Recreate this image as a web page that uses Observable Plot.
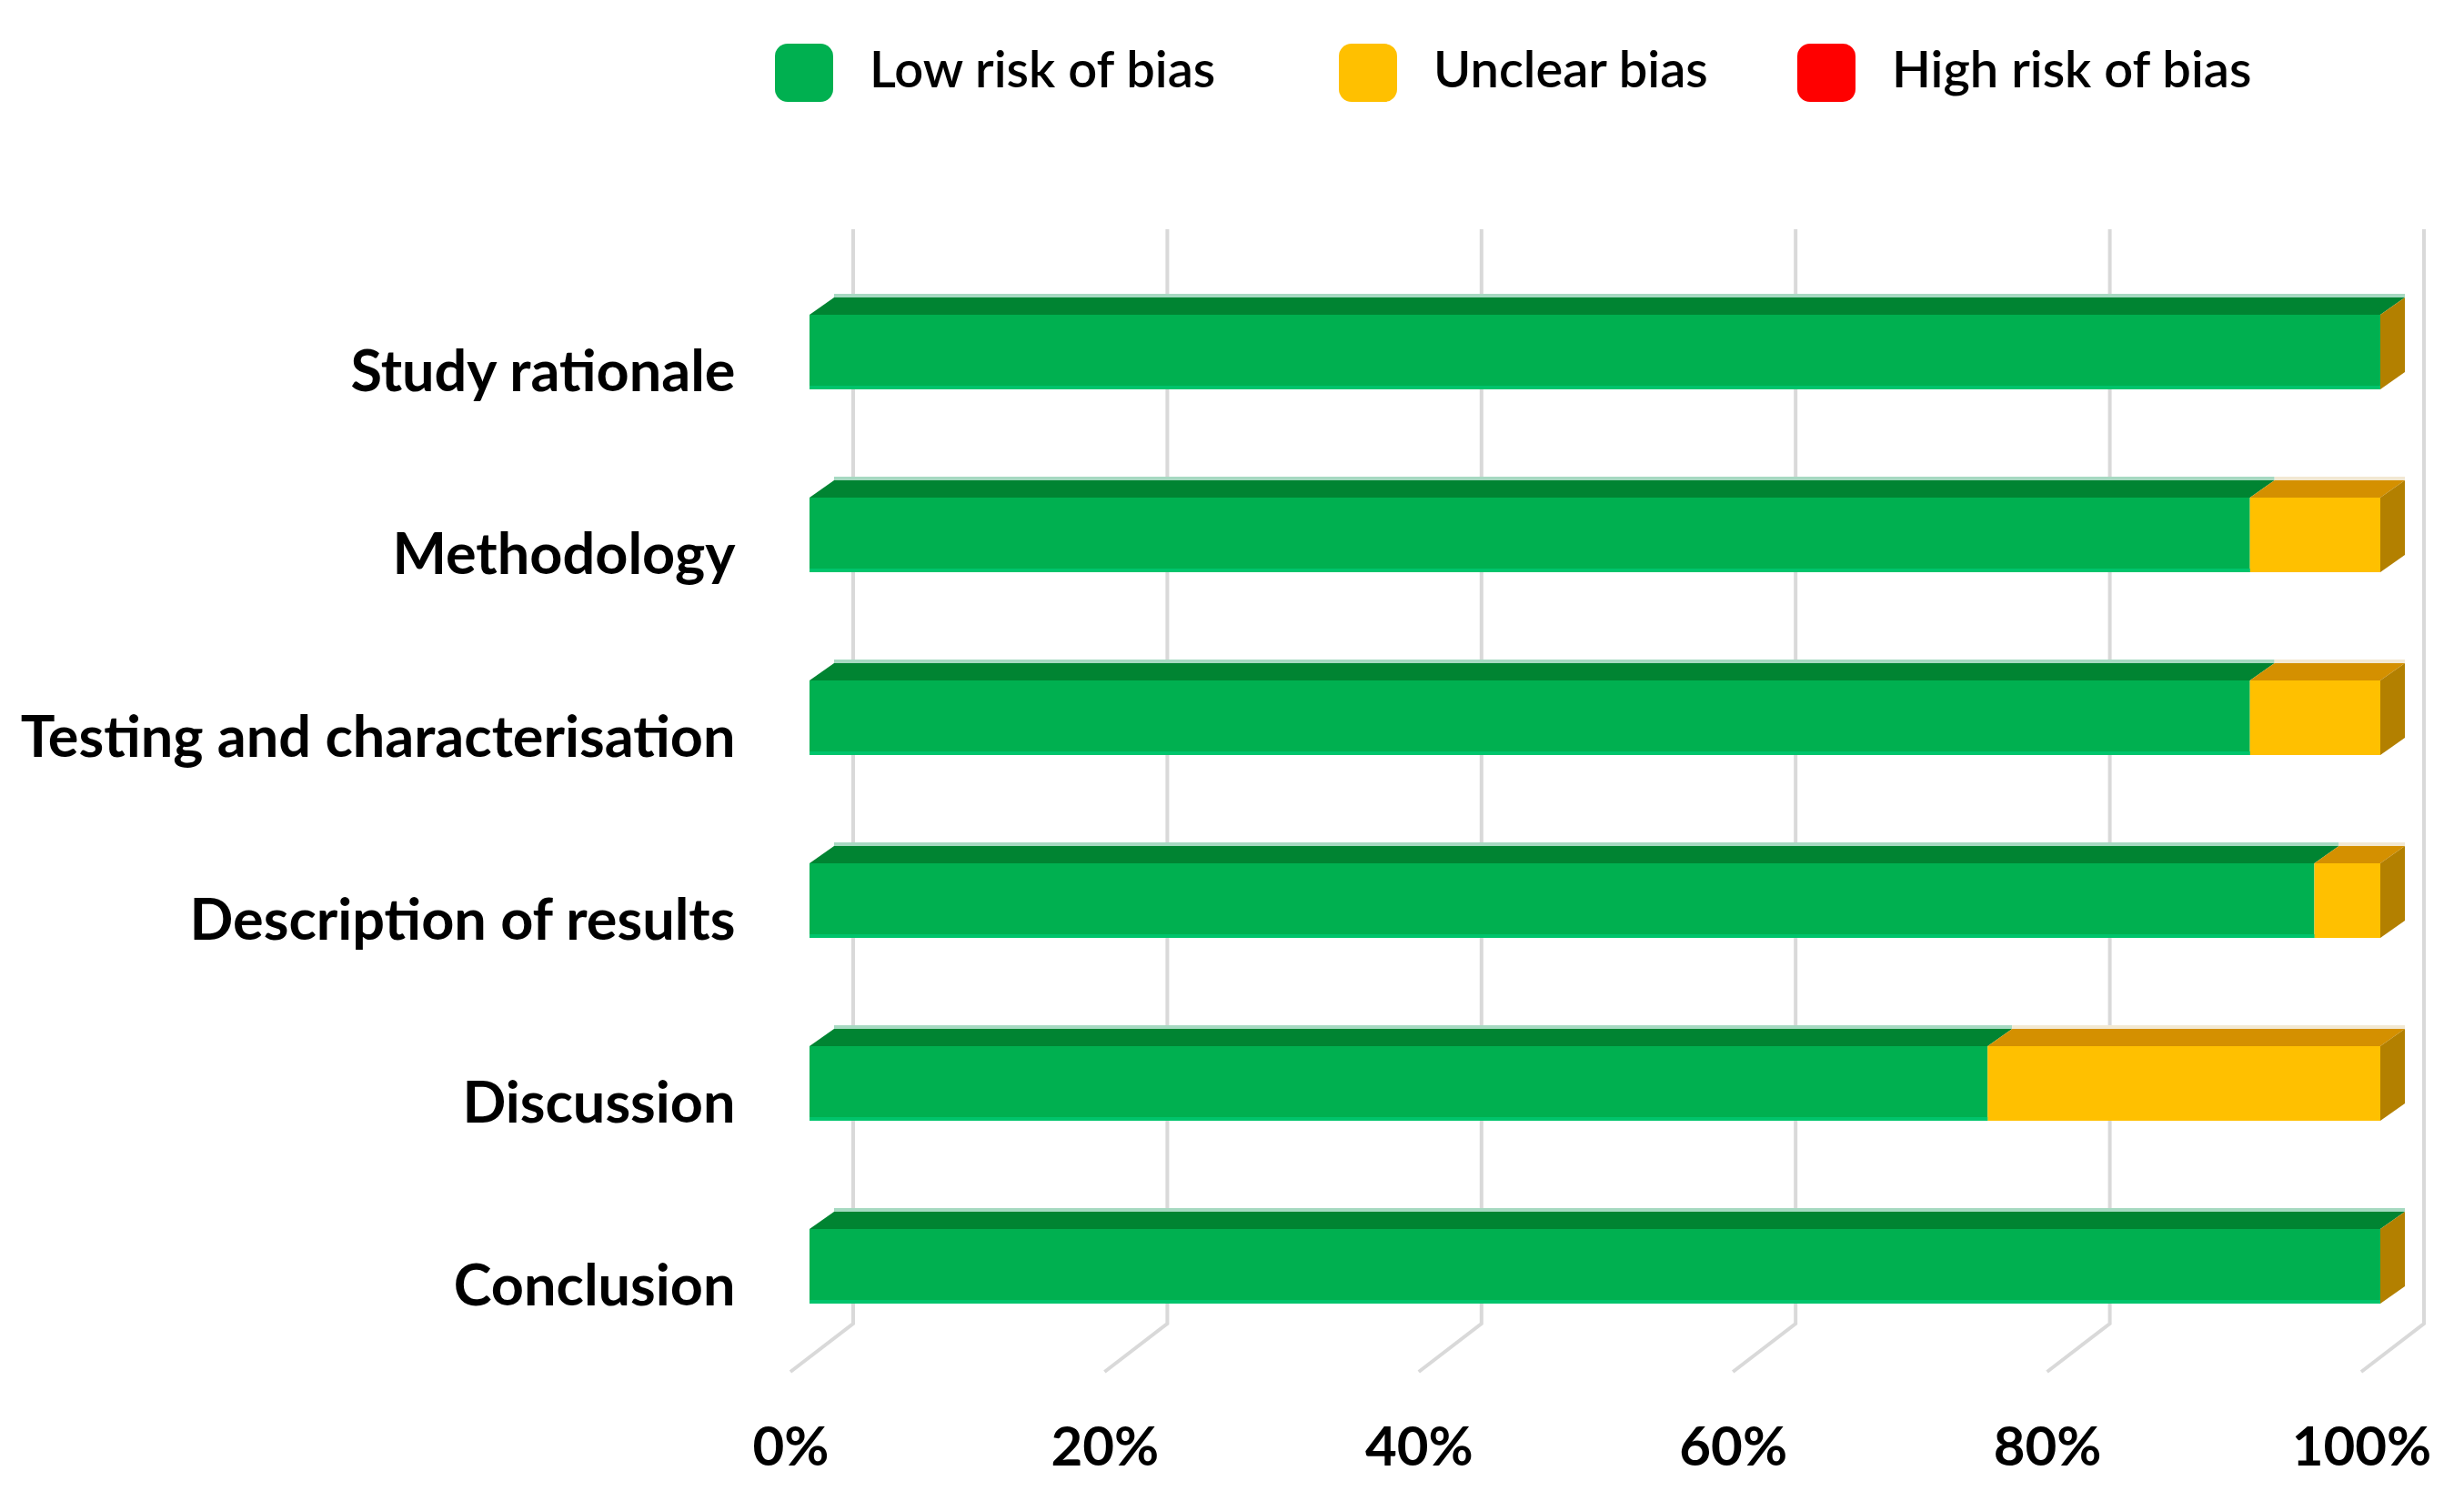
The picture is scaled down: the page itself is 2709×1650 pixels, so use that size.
<!DOCTYPE html>
<html>
<head>
<meta charset="utf-8">
<script src="https://cdn.jsdelivr.net/npm/d3@7"></script>
<script src="https://cdn.jsdelivr.net/npm/@observablehq/plot@0.6"></script>
<style>
  html, body { margin: 0; padding: 0; background: #fff; }
  body { width: 2709px; height: 1650px; overflow: hidden; font-family: Lato, "Open Sans", sans-serif; }
  #legend { position: relative; height: 200px; box-sizing: border-box; padding-top: 48px; padding-left: 852px; display: flex; align-items: flex-start; }
  #legend .item { display: flex; align-items: center; height: 64px; }
  #legend .sw { width: 64px; height: 64px; border-radius: 14px; margin-right: 40px; flex: none; }
  #legend .lab { font-size: 56px; font-weight: 600; color: #000; position: relative; top: -6px; white-space: nowrap; }
</style>
</head>
<body>
<div id="legend"></div>
<div id="chart"></div>
<script>
// ---- data ----
const categories = ["Study rationale", "Methodology", "Testing and characterisation", "Description of results", "Discussion", "Conclusion"];
const levels = ["Low risk of bias", "Unclear bias", "High risk of bias"];
const lowRisk   = [100, 91.7, 91.7, 95.8, 75, 100];
const unclear   = [0, 8.3, 8.3, 4.2, 25, 0];
const highRisk  = [0, 0, 0, 0, 0, 0];
const xTicks = [0, 20, 40, 60, 80, 100];

// ---- styles ----
const frontColors = ["#00b050", "#ffc000", "#ff0000"];
const topColors   = ["#008432", "#d49000", "#c00000"];
const edgeColors  = ["#a6d9c1", "#f2e8d2", "#f5c0c0"];
const sideColor   = "#b38000";
const DX = 27, DY = 19;

const rows = [];
categories.forEach((c, i) => {
  [lowRisk, unclear, highRisk].forEach((series, k) => {
    rows.push({category: c, level: levels[k], value: series[i]});
  });
});

// legend
const legend = document.getElementById("legend");
const itemWidths = [620, 504, null];
levels.forEach((l, k) => {
  const it = document.createElement("div");
  it.className = "item";
  if (itemWidths[k]) it.style.width = itemWidths[k] + "px";
  const sw = document.createElement("div");
  sw.className = "sw"; sw.style.background = frontColors[k];
  const lab = document.createElement("span");
  lab.className = "lab"; lab.textContent = l;
  it.appendChild(sw); it.appendChild(lab);
  legend.appendChild(it);
});

const NS = "http://www.w3.org/2000/svg";
function el(tag, attrs) {
  const e = document.createElementNS(NS, tag);
  for (const k in attrs) e.setAttribute(k, attrs[k]);
  return e;
}

// gridlines on back wall, bending onto the floor
function gridRender(index, scales, values, dimensions) {
  const g = el("g", {fill: "none", stroke: "#d9d9d9", "stroke-width": 4});
  const top = dimensions.marginTop;
  const bottom = dimensions.height - dimensions.marginBottom;
  for (const i of index) {
    const x = values.x[i];
    g.appendChild(el("path", {d: `M${x + 48},${top}V${bottom}L${x - 21},${bottom + 53}`}));
  }
  return g;
}

// 3D faces for stacked bars
function bars3d(index, scales, values, dimensions, context, next) {
  const g = next(index, scales, values, dimensions, context);
  const r0 = g.querySelector("rect");
  const h = r0 ? +r0.getAttribute("height") : 0;
  const extra = el("g", {});
  for (const i of index) {
    const a = Math.min(values.x1[i], values.x2[i]);
    const b = Math.max(values.x1[i], values.x2[i]);
    const y = values.y[i];
    const k = levels.indexOf(rows[i].level);
    if (b - a > 0.5) {
      extra.appendChild(el("polygon", {points: `${a},${y} ${b},${y} ${b + DX},${y - DY} ${a + DX},${y - DY}`, fill: topColors[k]}));
      extra.appendChild(el("rect", {x: a + DX, y: y - DY - 4, width: b - a, height: 4, fill: edgeColors[k]}));
      if (k === 0) extra.appendChild(el("rect", {x: a, y: y + h - 4, width: b - a, height: 4, fill: "#00c46c"}));
    }
    if (k === 1) {
      extra.appendChild(el("polygon", {points: `${b},${y} ${b + DX},${y - DY} ${b + DX},${y + h - DY} ${b},${y + h}`, fill: sideColor}));
    }
  }
  g.appendChild(extra);
  return g;
}

const chart = Plot.plot({
  width: 2709,
  height: 1450,
  marginLeft: 890,
  marginRight: 92,
  marginTop: 52,
  marginBottom: 195,
  style: {fontFamily: "Lato, 'Open Sans', sans-serif", color: "#000", background: "#fff", overflow: "visible"},
  x: {domain: [0, 100], axis: null},
  y: {domain: categories, range: [85.4, 1292.6], paddingInner: 0.5925, paddingOuter: 0.296, axis: null},
  color: {domain: levels, range: frontColors},
  marks: [
    Plot.ruleX(xTicks, {x: d => d, render: gridRender}),
    Plot.barX(rows, Plot.stackX({x: "value", y: "category", fill: "level", order: levels, render: bars3d})),
    Plot.axisX({ticks: xTicks, tickFormat: d => d + "%", tickSize: 0, tickPadding: 113, dx: -21, fontSize: 60, fontWeight: "bold", label: null}),
    Plot.axisY({tickSize: 0, tickPadding: 82, dy: 22, fontSize: 63, fontWeight: "bold", label: null})
  ]
});
document.getElementById("chart").appendChild(chart);
</script>
</body>
</html>
